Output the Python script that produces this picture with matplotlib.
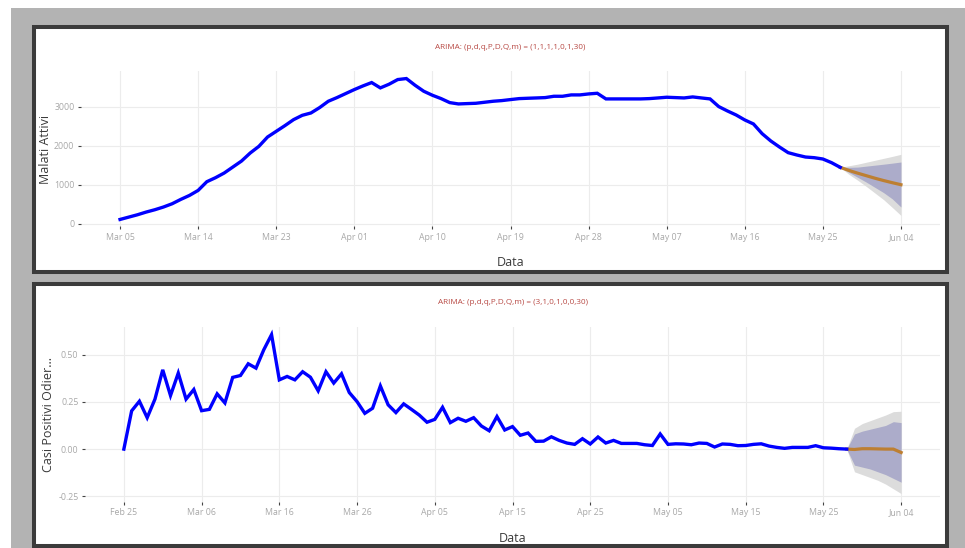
import numpy as np
import matplotlib
matplotlib.use("Agg")
import matplotlib.pyplot as plt
from matplotlib.patches import Rectangle

plt.rcParams['font.family'] = ['Open Sans', 'DejaVu Sans']

W, H = 965, 548

# ---- Malati Attivi (active cases) ----
malati_start = "2020-03-05"
malati_attivi = [
    111, 171, 231, 300, 360, 430, 514, 626, 728, 857,
    1080, 1183, 1303, 1457, 1611, 1817, 1988, 2228, 2374, 2520,
    2674, 2785, 2845, 2983, 3146, 3240, 3343, 3446, 3540, 3626,
    3489, 3583, 3703, 3729, 3557, 3403, 3300, 3214, 3111, 3077,
    3086, 3094, 3120, 3146, 3163, 3189, 3214, 3223, 3231, 3240,
    3274, 3274, 3309, 3309, 3334, 3351, 3206, 3206, 3206, 3206,
    3206, 3214, 3231, 3249, 3240, 3231, 3257, 3231, 3206, 3009,
    2897, 2794, 2666, 2563, 2314, 2126, 1971, 1826, 1766, 1714,
    1697, 1663, 1569, 1449,
]
malati_fc_mean = [1449, 1370, 1300, 1235, 1170, 1110, 1055, 1003]
malati_fc_lo80 = [1449, 1320, 1195, 1070, 935, 800, 640, 430]
malati_fc_hi80 = [1449, 1450, 1455, 1480, 1505, 1530, 1557, 1586]
malati_fc_lo95 = [1449, 1270, 1120, 960, 790, 620, 420, 214]
malati_fc_hi95 = [1449, 1490, 1530, 1580, 1630, 1680, 1730, 1783]
malati_ticks = ["Mar 05", "Mar 14", "Mar 23", "Apr 01", "Apr 10", "Apr 19",
                "Apr 28", "May 07", "May 16", "May 25", "Jun 04"]
malati_yticks = [0, 1000, 2000, 3000]
malati_title = "ARIMA: (p,d,q,P,D,Q,m) = (1,1,1,1,0,1,30)"

# ---- Casi Positivi Odierni (daily positive ratio) ----
casi_start = "2020-02-25"
casi_positivi = [
    0.000, 0.202, 0.253, 0.166, 0.264, 0.419, 0.283, 0.402, 0.264, 0.315,
    0.203, 0.210, 0.292, 0.244, 0.379, 0.389, 0.451, 0.428, 0.525, 0.605,
    0.366, 0.384, 0.366, 0.409, 0.380, 0.308, 0.409, 0.349, 0.398, 0.299,
    0.251, 0.189, 0.216, 0.334, 0.234, 0.193, 0.239, 0.210, 0.180, 0.142,
    0.157, 0.221, 0.140, 0.163, 0.147, 0.166, 0.122, 0.097, 0.172, 0.101,
    0.119, 0.073, 0.085, 0.041, 0.042, 0.065, 0.046, 0.032, 0.025, 0.055,
    0.027, 0.064, 0.032, 0.046, 0.030, 0.030, 0.030, 0.023, 0.019, 0.080,
    0.025, 0.028, 0.027, 0.023, 0.032, 0.030, 0.011, 0.027, 0.025, 0.018,
    0.019, 0.025, 0.028, 0.016, 0.009, 0.004, 0.009, 0.009, 0.009, 0.018,
    0.007, 0.005, 0.002, 0.000,
]
casi_fc_mean = [0.000, -0.002, 0.002, 0.002, 0.001, 0.000, 0.000, -0.018]
casi_fc_lo80 = [0.000, -0.085, -0.095, -0.105, -0.120, -0.135, -0.155, -0.175]
casi_fc_hi80 = [0.000, 0.080, 0.095, 0.105, 0.115, 0.125, 0.145, 0.140]
casi_fc_lo95 = [0.000, -0.120, -0.135, -0.150, -0.165, -0.185, -0.210, -0.235]
casi_fc_hi95 = [0.000, 0.110, 0.135, 0.150, 0.165, 0.180, 0.198, 0.200]
casi_ticks = ["Feb 25", "Mar 06", "Mar 16", "Mar 26", "Apr 05", "Apr 15",
              "Apr 25", "May 05", "May 15", "May 25", "Jun 04"]
casi_yticks = [-0.25, 0.0, 0.25, 0.50]
casi_ytick_labels = ["-0.25", "0.00", "0.25", "0.50"]
casi_title = "ARIMA: (p,d,q,P,D,Q,m) = (3,1,0,1,0,0,30)"

BLUE = "#0000ff"
ORANGE = "#bd7f32"
BAND95 = "#dcdcdc"
BAND80 = "#acacca"
TITLE_C = "#b84a45"
LABEL_C = "#3a3a3a"
TICK_C = "#a8a8a8"
GRID_C = "#ececec"


def fx(px):
    return px / W


def fy(py):
    return 1 - py / H


def px_rect(left, top, right, bottom):
    return [fx(left), fy(bottom), (right - left) / W, (bottom - top) / H]


fig = plt.figure(figsize=(W / 100, H / 100), dpi=100, facecolor="white")

# grey page background and the two white panels with dark frames
fig.patches.append(Rectangle((fx(11), 0), 1 - fx(11), fy(8), transform=fig.transFigure,
                             facecolor="#b3b3b3", edgecolor="none", zorder=-3))
for (l, t, r, b) in [(34, 27, 947, 272), (34, 284, 947, 546)]:
    fig.patches.append(Rectangle((fx(l), fy(b)), (r - l) / W, (b - t) / H,
                                 transform=fig.transFigure, facecolor="white",
                                 edgecolor="#3b3b3b", linewidth=2.9, zorder=-2))


def draw_panel(rect, start, values, fc_mean, fc_lo80, fc_hi80, fc_lo95, fc_hi95,
               tick_step, tick_labels, pad_days, ylim, yticks, ytick_labels):
    ax = fig.add_axes(rect)
    ax.set_facecolor("none")
    t0 = np.datetime64(start)
    dates = t0 + np.arange(len(values)).astype("timedelta64[D]")
    fc_dates = dates[-1] + np.arange(len(fc_mean)).astype("timedelta64[D]")

    ax.fill_between(fc_dates, fc_lo95, fc_hi95, color=BAND95, lw=0, zorder=2)
    ax.fill_between(fc_dates, fc_lo80, fc_hi80, color=BAND80, lw=0, zorder=3)
    ax.plot(dates, values, color=BLUE, lw=2.4, solid_joinstyle="miter", zorder=5)
    ax.plot(fc_dates, fc_mean, color=ORANGE, lw=2.3, zorder=4)

    tick_dates = t0 + (np.arange(len(tick_labels)) * tick_step).astype("timedelta64[D]")
    ax.set_xticks(tick_dates)
    ax.set_xticklabels(tick_labels)
    pad = np.timedelta64(int(pad_days * 24), "h")
    ax.set_xlim(t0 - pad, fc_dates[-1] + pad)
    ax.set_ylim(*ylim)
    ax.set_yticks(yticks)
    ax.set_yticklabels(ytick_labels)

    for s in ax.spines.values():
        s.set_visible(False)
    ax.grid(True, color=GRID_C, lw=0.8)
    ax.set_axisbelow(True)
    ax.tick_params(axis="both", direction="out", length=2.5, width=0.8,
                   color="#444444", labelcolor=TICK_C, labelsize=6.3, pad=2.2)
    return ax


draw_panel(px_rect(81, 71.5, 940, 226.5), malati_start, malati_attivi,
           malati_fc_mean, malati_fc_lo80, malati_fc_hi80, malati_fc_lo95, malati_fc_hi95,
           9, malati_ticks, 4.5, (-70, 3910), malati_yticks,
           [str(v) for v in malati_yticks])
fig.text(fx(510.5), fy(47.7), malati_title, color=TITLE_C, fontsize=5.9,
         ha="center", va="center")
fig.text(fx(45.7), fy(149), "Malati Attivi", color=LABEL_C, fontsize=9,
         rotation=90, ha="center", va="center")
fig.text(fx(510.5), fy(263), "Data", color=LABEL_C, fontsize=9,
         ha="center", va="center")

draw_panel(px_rect(85, 326.7, 940, 501.5), casi_start, casi_positivi,
           casi_fc_mean, casi_fc_lo80, casi_fc_hi80, casi_fc_lo95, casi_fc_hi95,
           10, casi_ticks, 5, (-0.277, 0.647), casi_yticks, casi_ytick_labels)
fig.text(fx(512.5), fy(303), casi_title, color=TITLE_C, fontsize=5.9,
         ha="center", va="center")
fig.text(fx(48), fy(414), "Casi Positivi Odier...", color=LABEL_C, fontsize=9,
         rotation=90, ha="center", va="center")
fig.text(fx(512.5), fy(538), "Data", color=LABEL_C, fontsize=9,
         ha="center", va="center")

fig.savefig("out.png", dpi=100, facecolor="white")
